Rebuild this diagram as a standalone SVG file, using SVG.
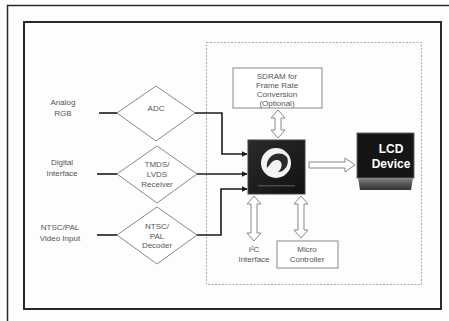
<svg xmlns="http://www.w3.org/2000/svg" width="449" height="321" viewBox="0 0 449 321">
  <style>
    .lbl { font-family: "Liberation Sans", Arial, sans-serif; font-size: 8px; fill: #555; text-anchor: middle; }
    .frame { fill: none; stroke: #2a2a2a; }
    .dia { fill: #fff; stroke: #888; stroke-width: 1; }
    .box { fill: #fff; stroke: #888; stroke-width: 1; }
    .hollow { fill: #fff; stroke: #888; stroke-width: 1; stroke-linejoin: miter; }
    .wire { fill: none; stroke: #1a1a1a; stroke-width: 1.6; }
    .lcdtxt { font-family: "Liberation Sans", Arial, sans-serif; font-size: 12px; font-weight: bold; fill: #fff; text-anchor: middle; }
  </style>
  <defs>
    <marker id="arr" viewBox="0 0 10 10" refX="9" refY="5" markerWidth="6" markerHeight="6" orient="auto" markerUnits="userSpaceOnUse">
      <path d="M0,0 L10,5 L0,10 Z" fill="#1a1a1a"/>
    </marker>
    <linearGradient id="chipG" x1="0" y1="0" x2="1" y2="1">
      <stop offset="0" stop-color="#2b2b2b"/>
      <stop offset="1" stop-color="#111"/>
    </linearGradient>
    <linearGradient id="baseG" x1="0" y1="0" x2="0" y2="1">
      <stop offset="0" stop-color="#888"/>
      <stop offset="0.5" stop-color="#555"/>
      <stop offset="1" stop-color="#333"/>
    </linearGradient>
  </defs>

  <rect width="449" height="321" fill="#fdfdfd"/>

  <!-- page frames -->
  <path class="frame" d="M7.5,321 V5.5 H449" stroke-width="1.5"/>
  <rect class="frame" x="24" y="22" width="417" height="287" stroke-width="2"/>

  <!-- controller boundary -->
  <rect x="206.5" y="42.5" width="215" height="242" fill="none" stroke="#aaa" stroke-width="1" stroke-dasharray="2,1.5"/>

  <!-- input labels -->
  <g id="in-analog">
    <text class="lbl" x="63" y="105">Analog</text>
    <text class="lbl" x="63" y="116">RGB</text>
  </g>
  <g id="in-digital">
    <text class="lbl" x="62" y="165">Digital</text>
    <text class="lbl" x="62" y="176">Interface</text>
  </g>
  <g id="in-video">
    <text class="lbl" x="60" y="230">NTSC/PAL</text>
    <text class="lbl" x="60" y="241">Video Input</text>
  </g>

  <!-- front-end blocks -->
  <g id="adc">
    <polygon class="dia" points="117,113 156,86 195,113 156,141"/>
    <text class="lbl" x="156" y="111">ADC</text>
  </g>
  <g id="tmds">
    <polygon class="dia" points="117,174 157,146 197,174 157,203"/>
    <text class="lbl" x="157" y="167">TMDS/</text>
    <text class="lbl" x="157" y="177">LVDS</text>
    <text class="lbl" x="157" y="187">Receiver</text>
  </g>
  <g id="decoder">
    <polygon class="dia" points="117,235 157,207 197,235 157,264"/>
    <text class="lbl" x="157" y="229">NTSC/</text>
    <text class="lbl" x="157" y="239">PAL</text>
    <text class="lbl" x="157" y="248">Decoder</text>
  </g>

  <!-- memory -->
  <g id="sdram">
    <rect class="box" x="233" y="68" width="89" height="40"/>
    <text class="lbl" x="277" y="79">SDRAM for</text>
    <text class="lbl" x="277" y="88">Frame Rate</text>
    <text class="lbl" x="277" y="97">Conversion</text>
    <text class="lbl" x="277" y="106">(Optional)</text>
  </g>

  <!-- display controller chip -->
  <g id="chip">
    <rect x="248" y="140" width="57" height="54" fill="url(#chipG)" stroke="#444" stroke-width="1"/>
    <circle cx="276" cy="163" r="15" fill="#f4f4f4"/>
    <path d="M267,168 C265,156 279,149 287,157 C290,164 285,172 278,172 C284,167 282,159 276,160 C271,161 270,165 267,168 Z" fill="#2a2a2a"/>
    <rect x="258" y="185" width="37" height="1.5" fill="#4a4a4a"/>
  </g>

  <!-- LCD panel -->
  <g id="lcd">
    <rect x="357" y="133" width="57" height="45" fill="#151515" stroke="#666" stroke-width="1"/>
    <polygon points="358,178 413,178 411,190 360,190" fill="url(#baseG)"/>
    <text class="lcdtxt" x="391" y="153">LCD</text>
    <text class="lcdtxt" x="391" y="168">Device</text>
  </g>

  <!-- host interfaces -->
  <g id="i2c">
    <text class="lbl" x="254" y="252">I²C</text>
    <text class="lbl" x="254" y="262">Interface</text>
  </g>
  <g id="micro">
    <rect class="box" x="277" y="241" width="61" height="27"/>
    <text class="lbl" x="307" y="252">Micro</text>
    <text class="lbl" x="307" y="262">Controller</text>
  </g>

  <!-- connectors -->
  <g id="connectors">
    <line class="wire" x1="99" y1="113" x2="117" y2="113"/>
    <line class="wire" x1="97" y1="174" x2="117" y2="174"/>
    <line class="wire" x1="97" y1="235" x2="117" y2="235"/>

    <polyline class="wire" points="195,113 222,113 222,154 247,154" marker-end="url(#arr)"/>
    <polyline class="wire" points="197,174 247,174" marker-end="url(#arr)"/>
    <polyline class="wire" points="197,235 221,235 221,189 247,189" marker-end="url(#arr)"/>

    <!-- SDRAM bus -->
    <polygon class="hollow" points="278,110 285,118 281,118 281,130 285,130 278,138 271,130 275,130 275,118 271,118"/>
    <!-- I2C bus -->
    <polygon class="hollow" points="254,196 261,204 257,204 257,233 261,233 254,241 247,233 251,233 251,204 247,204"/>
    <!-- micro bus -->
    <polygon class="hollow" points="301,196 308,204 304,204 304,230 308,230 301,238 294,230 298,230 298,204 294,204"/>
    <!-- video out -->
    <polygon class="hollow" points="309,162 345,162 345,158 355,165 345,172 345,168 309,168"/>
  </g>
</svg>
